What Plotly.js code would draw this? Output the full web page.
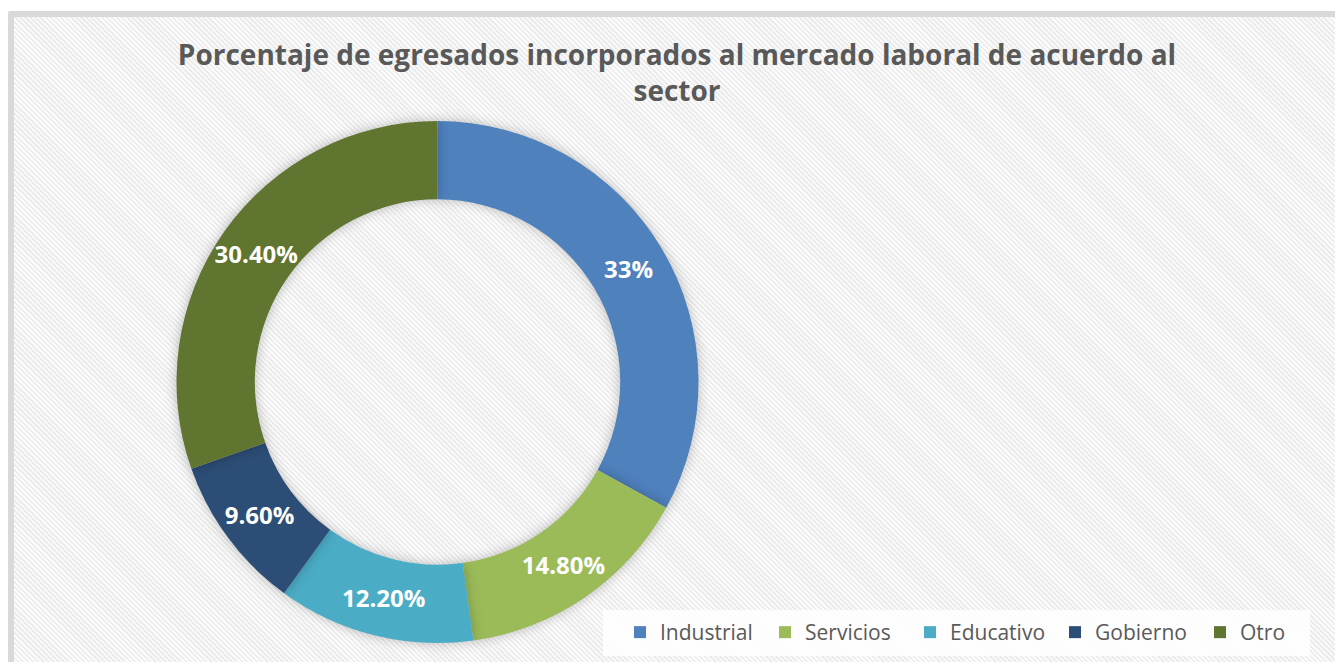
<!DOCTYPE html>
<html>
<head>
<meta charset="utf-8">
<script src="https://cdn.plot.ly/plotly-3.0.1.min.js"></script>
<style>
  html, body { margin: 0; padding: 0; background: #ffffff; width: 1335px; height: 662px; overflow: hidden; }
  #frame {
    position: absolute; left: 8px; top: 11px; width: 1340px; height: 670px;
    border: 6px solid #D9D9D9; border-radius: 2px;
    background: repeating-linear-gradient(45deg, #fbfbfb 0px, #fbfbfb 1.8px, #ececec 1.8px, #ececec 3.6px);
  }
  #chart { position: absolute; left: 0; top: 0; width: 1335px; height: 662px; }
  #chart .pielayer .trace path.surface { filter: drop-shadow(0px 0px 6px rgba(0,0,0,0.25)); }
</style>
</head>
<body>
<div id="frame"></div>
<div id="chart"></div>
<script>
const categories = ["Industrial", "Servicios", "Educativo", "Gobierno", "Otro"];
const values = [33, 14.8, 12.2, 9.6, 30.4];
const valueLabels = ["33%", "14.80%", "12.20%", "9.60%", "30.40%"];
const colors = ["#4F81BD", "#9BBB59", "#4BACC6", "#2C4D75", "#5F7530"];

const W = 1335, H = 662;
const cx = 437.5, cy = 382, R = 261;      // donut ring
const R2 = 280;                           // wider label ring (same centre line)

function domainFor(r) {
  return { x: [(cx - r) / W, (cx + r) / W], y: [1 - (cy + r) / H, 1 - (cy - r) / H] };
}

const donut = {
  type: "pie",
  labels: categories,
  values: values,
  textinfo: "none",
  hole: 0.70,
  sort: false,
  direction: "clockwise",
  rotation: 0,
  marker: { colors: colors, line: { width: 0 } },
  domain: domainFor(R),
  hoverinfo: "label+percent"
};

// transparent ring sharing the same slices, only to carry the value labels
const labelRing = {
  type: "pie",
  labels: categories,
  values: values,
  text: valueLabels,
  textinfo: "text",
  texttemplate: "%{text}",
  textposition: "inside",
  insidetextorientation: "horizontal",
  insidetextfont: { family: "Open Sans, sans-serif", size: 24, color: "#ffffff", weight: "bold" },
  hole: (2 * 222 - R2) / R2,
  sort: false,
  direction: "clockwise",
  rotation: 0,
  marker: { colors: categories.map(() => "rgba(0,0,0,0)"), line: { width: 0 } },
  domain: domainFor(R2),
  showlegend: false,
  hoverinfo: "skip"
};

const layout = {
  width: W, height: H,
  margin: { l: 0, r: 0, t: 0, b: 0, autoexpand: false },
  paper_bgcolor: "rgba(0,0,0,0)",
  plot_bgcolor: "rgba(0,0,0,0)",
  font: { family: "Open Sans, sans-serif", color: "#595959" },
  title: {
    text: "<b>Porcentaje de egresados incorporados al mercado laboral de acuerdo al<br>sector</b>",
    font: { family: "Open Sans, sans-serif", size: 28, color: "#595959" },
    x: 677 / W, xanchor: "center",
    y: 1 - 65 / H, yanchor: "top", yref: "container"
  },
  shapes: [{
    type: "rect", xref: "paper", yref: "paper", layer: "below",
    x0: 603 / W, x1: 1310 / W, y0: 1 - 656 / H, y1: 1 - 610 / H,
    fillcolor: "rgba(255,255,255,0.85)", line: { width: 0 }
  }],
  showlegend: true,
  legend: {
    orientation: "h",
    x: 620 / W, xanchor: "left",
    y: 1 - 612 / H, yanchor: "top",
    bgcolor: "rgba(0,0,0,0)",
    font: { family: "Open Sans, sans-serif", size: 21, color: "#595959" },
    itemwidth: 30,
    entrywidth: 100,
    entrywidthmode: "pixels",
    traceorder: "normal"
  }
};

Plotly.newPlot("chart", [donut, labelRing], layout, { displayModeBar: false, staticPlot: true });
</script>
</body>
</html>
